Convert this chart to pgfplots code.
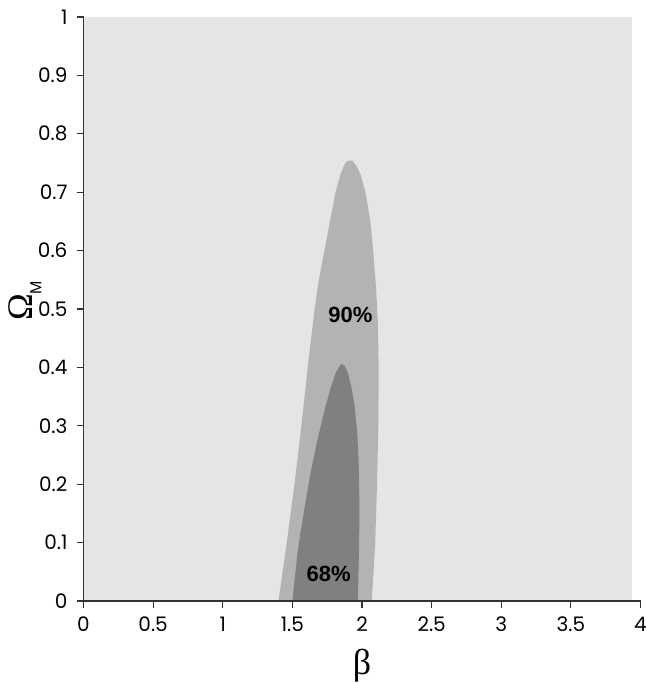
\documentclass[border=0pt]{standalone}
\usepackage{fontspec}
\setmainfont{Poppins}
\newfontfamily\greekserif{Liberation Serif}
\newfontfamily\boldsans{Liberation Sans}
\usepackage{pgfplots}
\pgfplotsset{compat=1.18}
\definecolor{bggray}{HTML}{E5E5E5}
\definecolor{outergray}{HTML}{B3B3B3}
\definecolor{innergray}{HTML}{808080}
\definecolor{axisc}{HTML}{333333}
\begin{document}
\begin{tikzpicture}
\begin{axis}[
  scale only axis,
  width=278.5pt, height=292pt,
  xmin=0, xmax=4, ymin=0, ymax=1,
  axis x line=bottom, axis y line=left,
  axis line style={-, axisc, line width=0.8pt},
  axis on top,
  tick align=outside,
  major tick length=3.5pt,
  every tick/.style={axisc, line width=0.6pt},
  xtick={0,0.5,...,4},
  ytick={0,0.1,...,1},
  minor tick num=0,
  /pgf/number format/assume math mode=true,
  tick label style={font=\fontsize{10}{12}\selectfont},
  xticklabel style={yshift=-1pt},
  yticklabel style={xshift=-1pt},
  xlabel={\greekserif β},
  ylabel={{\greekserif Ω}\raisebox{-4.5pt}{\boldsans\fontsize{8}{10}\selectfont M}},
  xlabel style={font=\fontsize{18}{22}\selectfont, at={(axis description cs:0.5,-0.126)}, anchor=base},
  ylabel style={font=\fontsize{18}{22}\selectfont, at={(axis description cs:-0.105,0.514)}, anchor=center},
  clip=false,
]
\addplot[fill=bggray, draw=none] coordinates {(0,0) (3.94,0) (3.94,1) (0,1)} --cycle;
% 90% region
\addplot[fill=outergray, draw=none] coordinates {
 (1.40,0) (1.46,0.10) (1.515,0.20) (1.565,0.30) (1.61,0.40) (1.66,0.50) (1.69,0.55) (1.73,0.60) (1.77,0.65) (1.81,0.70) (1.845,0.73) (1.875,0.748) (1.90,0.754) (1.93,0.754) (1.96,0.745) (1.99,0.73) (2.025,0.70) (2.06,0.65) (2.08,0.60) (2.10,0.54) (2.113,0.48) (2.12,0.40) (2.117,0.30) (2.108,0.20) (2.095,0.10) (2.07,0)
} --cycle;
% 68% region
\addplot[fill=innergray, draw=none] coordinates {
 (1.50,0) (1.535,0.079) (1.56,0.12) (1.595,0.17) (1.63,0.219) (1.68,0.276) (1.735,0.33) (1.775,0.365) (1.81,0.39) (1.85,0.406) (1.875,0.403) (1.90,0.39) (1.925,0.365) (1.948,0.332) (1.965,0.29) (1.976,0.24) (1.981,0.18) (1.98,0.104) (1.97,0)
} --cycle;
\node[font=\boldsans\bfseries\fontsize{11}{13}\selectfont] at (axis cs:1.916,0.490) {90\%};
\node[font=\boldsans\bfseries\fontsize{11}{13}\selectfont] at (axis cs:1.76,0.046) {68\%};
\coordinate (SW) at (rel axis cs:0,0);
\coordinate (NE) at (rel axis cs:1,1);
\end{axis}
\pgfresetboundingbox
\path ([xshift=-41.75pt,yshift=-41pt]SW) rectangle ([xshift=2.5pt,yshift=8.5pt]NE);
\end{tikzpicture}
\end{document}
